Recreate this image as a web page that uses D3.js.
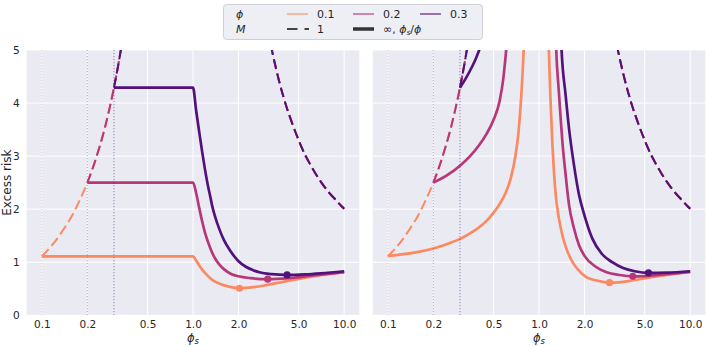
<!DOCTYPE html>
<html>
<head>
<meta charset="utf-8">
<script src="https://d3js.org/d3.v7.min.js"></script>
<style>
  body { margin: 0; background: #fff; }
  svg, svg text { font-family: "DejaVu Sans", sans-serif; }
  .tick text { fill: #262626; font-size: 10.5px; font-family: "DejaVu Sans", sans-serif; }
</style>
</head>
<body>
<svg id="chart" width="706" height="346"></svg>
<script>
// phi values and their colours (magma, 3 steps)
var phis = [0.1, 0.2, 0.3];
var colors = ["#fc8961", "#b73779", "#51127c"];
var xTicks = [0.1, 0.2, 0.5, 1.0, 2.0, 5.0, 10.0];
var xTickLabels = ["0.1", "0.2", "0.5", "1.0", "2.0", "5.0", "10.0"];
var yTicks = [0, 1, 2, 3, 4, 5];

// M = 1 (dashed), same curve for every phi, drawn from phi on
var m1Under = [[0.1,1.11],[0.12,1.36],[0.14,1.63],[0.16,1.9],[0.18,2.2],[0.2,2.5],[0.22,2.82],
  [0.24,3.16],[0.26,3.51],[0.28,3.89],[0.3,4.29],[0.32,4.71],[0.34,5.15]];
var m1Over = [[2.9,5.9],[3.0,5.67],[3.2,5.23],[3.4,4.87],[3.7,4.43],[4,4.08],[4.5,3.64],[5,3.3],
  [5.5,3.03],[6,2.83],[6.5,2.66],[7,2.52],[7.5,2.4],[8,2.3],[8.5,2.22],[9,2.14],[9.5,2.07],[10,2.01]];

// left panel, M = infinity
var leftOrange = [[0.1,1.11],[1.0,1.11],[1.05,1.03],[1.1,0.94],[1.15,0.86],[1.2,0.8],[1.3,0.7],[1.4,0.635],
  [1.5,0.595],[1.7,0.545],[2.03,0.51],[2.5,0.53],[3,0.565],[4,0.635],[5,0.685],[7,0.755],[10,0.815]];
var leftMagenta = [[0.2,2.5],[1.0,2.5],[1.05,2.3],[1.1,2.02],[1.15,1.77],[1.2,1.56],[1.3,1.27],[1.4,1.07],
  [1.5,0.95],[1.6,0.87],[1.8,0.775],[2.0,0.735],[2.4,0.70],[3.12,0.68],[4.3,0.70],[6,0.745],[10,0.815]];
var leftPurple = [[0.3,4.29],[1.0,4.29],[1.05,3.85],[1.1,3.45],[1.15,3.08],[1.2,2.75],[1.25,2.47],[1.3,2.24],
  [1.35,2.02],[1.4,1.86],[1.5,1.61],[1.6,1.42],[1.75,1.23],[2.0,1.02],[2.25,0.91],[2.5,0.85],[2.75,0.81],
  [3.3,0.775],[4.19,0.76],[5.5,0.77],[7,0.79],[10,0.83]];
var leftMin = [[2.03,0.51],[3.12,0.68],[4.19,0.76]];

// right panel, M = phi_s / phi (two branches each)
var rightOrangeLo = [[0.1,1.12],[0.15,1.18],[0.2,1.26],[0.25,1.35],[0.3,1.44],[0.35,1.545],[0.4,1.655],
  [0.45,1.78],[0.5,1.93],[0.55,2.1],[0.6,2.3],[0.65,2.58],[0.7,3.02],[0.73,3.42],[0.76,4.05],[0.78,4.6],[0.8,5.3]];
var rightOrangeHi = [[1.15,5.5],[1.17,4.7],[1.2,3.85],[1.225,3.25],[1.25,2.8],[1.29,2.27],[1.35,1.85],
  [1.43,1.5],[1.5,1.3],[1.66,1.01],[1.8,0.87],[2.03,0.73],[2.4,0.655],[2.93,0.615],[3.5,0.625],[4.2,0.66],
  [5.05,0.70],[7,0.76],[10,0.82]];
var rightMagentaLo = [[0.2,2.5],[0.25,2.65],[0.3,2.82],[0.35,3.0],[0.4,3.2],[0.45,3.42],[0.5,3.68],
  [0.55,4.05],[0.58,4.45],[0.6,4.85],[0.62,5.3]];
var rightMagentaHi = [[1.28,5.6],[1.3,5.0],[1.35,4.25],[1.4,3.6],[1.43,3.25],[1.5,2.65],[1.58,2.08],
  [1.7,1.65],[1.84,1.32],[2.0,1.12],[2.36,0.92],[2.8,0.81],[3.4,0.76],[4.17,0.735],[5,0.74],[7,0.775],[10,0.82]];
var rightPurpleLo = [[0.3,4.29],[0.33,4.48],[0.36,4.68],[0.38,4.82],[0.4,4.98],[0.42,5.15]];
var rightPurpleHi = [[1.39,5.4],[1.41,5.0],[1.5,4.15],[1.58,3.52],[1.7,2.85],[1.84,2.27],[2.0,1.88],
  [2.25,1.45],[2.6,1.16],[3.05,1.0],[3.6,0.89],[4.3,0.83],[5.3,0.80],[7,0.805],[10,0.83]];
var rightMin = [[2.93,0.615],[4.17,0.735],[5.3,0.80]];

var svg = d3.select("#chart");
var plotTop = 50, plotBottom = 315.3, panelW = 332.6;

var y = d3.scaleLinear().domain([0, 5]).range([plotBottom, plotTop]);

function drawPanel(x0, id, curves, mins, showY) {
  var x = d3.scaleLog().domain([Math.pow(10, -1.1), Math.pow(10, 1.1)]).range([x0, x0 + panelW]);
  var g = svg.append("g");

  g.append("rect").attr("x", x0).attr("y", plotTop).attr("width", panelW).attr("height", plotBottom - plotTop)
    .attr("fill", "#eaeaf2");
  svg.append("clipPath").attr("id", id).append("rect")
    .attr("x", x0).attr("y", plotTop).attr("width", panelW).attr("height", plotBottom - plotTop);

  // grid
  g.selectAll(".vg").data(xTicks).enter().append("line")
    .attr("x1", function(d) { return x(d); }).attr("x2", function(d) { return x(d); })
    .attr("y1", plotTop).attr("y2", plotBottom).attr("stroke", "#fff").attr("stroke-width", 1);
  g.selectAll(".hg").data(yTicks).enter().append("line")
    .attr("x1", x0).attr("x2", x0 + panelW)
    .attr("y1", function(d) { return y(d); }).attr("y2", function(d) { return y(d); })
    .attr("stroke", "#fff").attr("stroke-width", 1);

  var xAxis = g.append("g").attr("transform", "translate(0," + plotBottom + ")")
    .call(d3.axisBottom(x).tickValues(xTicks).tickSize(0).tickPadding(5)
      .tickFormat(function(d, i) { return xTickLabels[i]; }));
  xAxis.select(".domain").remove();

  if (showY) {
    var yAxis = g.append("g").attr("transform", "translate(" + x0 + ",0)")
      .call(d3.axisLeft(y).tickValues(yTicks).tickSize(0).tickPadding(7).tickFormat(d3.format("d")));
    yAxis.select(".domain").remove();
  }

  var line = d3.line()
    .x(function(d) { return x(d[0]); })
    .y(function(d) { return y(d[1]); })
    .curve(d3.curveMonotoneX);

  var plot = g.append("g").attr("clip-path", "url(#" + id + ")");

  phis.forEach(function(phi, i) {
    var under = m1Under.filter(function(d) { return d[0] >= phi - 1e-9; });
    [under, m1Over].forEach(function(arr) {
      plot.append("path").datum(arr).attr("d", line).attr("fill", "none")
        .attr("stroke", colors[i]).attr("stroke-width", 2).attr("stroke-dasharray", "10,4.5");
    });
    curves[i].forEach(function(arr) {
      plot.append("path").datum(arr).attr("d", line).attr("fill", "none")
        .attr("stroke", colors[i]).attr("stroke-width", 2.7).attr("stroke-linejoin", "round");
    });
    plot.append("circle").attr("cx", x(mins[i][0])).attr("cy", y(mins[i][1])).attr("r", 3.6)
      .attr("fill", colors[i]);
    plot.append("line").attr("x1", x(phi)).attr("x2", x(phi)).attr("y1", plotTop).attr("y2", plotBottom)
      .attr("stroke", colors[i]).attr("stroke-width", 1).attr("stroke-opacity", 0.5)
      .attr("stroke-dasharray", "1.2,1.8");
  });

  var lab = g.append("text").attr("x", x0 + panelW / 2).attr("y", 342).attr("text-anchor", "middle")
    .attr("font-size", 11.5).attr("fill", "#262626");
  lab.append("tspan").attr("font-style", "italic").text("ϕ");
  lab.append("tspan").attr("font-style", "italic").attr("font-size", 8.5).attr("dy", 2).text("s");
}

drawPanel(26.7, "clipL", [[leftOrange], [leftMagenta], [leftPurple]], leftMin, true);
drawPanel(372.7, "clipR", [[rightOrangeLo, rightOrangeHi], [rightMagentaLo, rightMagentaHi],
  [rightPurpleLo, rightPurpleHi]], rightMin, false);

svg.append("text").attr("transform", "translate(11," + (plotTop + plotBottom) / 2 + ") rotate(-90)")
  .attr("text-anchor", "middle").attr("font-size", 12).attr("fill", "#262626").text("Excess risk");

// legend
var lg = svg.append("g");
lg.append("rect").attr("x", 223.5).attr("y", 4.5).attr("width", 259).attr("height", 35).attr("rx", 3)
  .attr("fill", "#eeeef5").attr("stroke", "#cfcfd6").attr("stroke-width", 1);
var row1 = 14, row2 = 29;
lg.append("text").attr("x", 236).attr("y", row1 + 4).attr("font-size", 11).attr("font-style", "italic")
  .attr("fill", "#262626").text("ϕ");
lg.append("text").attr("x", 236).attr("y", row2 + 4).attr("font-size", 11).attr("font-style", "italic")
  .attr("fill", "#262626").text("M");
var legX = [287, 353, 420];
phis.forEach(function(phi, i) {
  lg.append("line").attr("x1", legX[i]).attr("x2", legX[i] + 21).attr("y1", row1).attr("y2", row1)
    .attr("stroke", colors[i]).attr("stroke-width", 1.5).attr("stroke-opacity", 0.75);
  lg.append("text").attr("x", legX[i] + 30).attr("y", row1 + 4).attr("font-size", 11)
    .attr("fill", "#262626").text(d3.format(".1f")(phi));
});
lg.append("line").attr("x1", legX[0]).attr("x2", legX[0] + 22).attr("y1", row2).attr("y2", row2)
  .attr("stroke", "#444").attr("stroke-width", 2).attr("stroke-dasharray", "10.5,7");
lg.append("text").attr("x", legX[0] + 30).attr("y", row2 + 4).attr("font-size", 11)
  .attr("fill", "#262626").text("1");
lg.append("line").attr("x1", legX[1]).attr("x2", legX[1] + 21).attr("y1", row2).attr("y2", row2)
  .attr("stroke", "#333").attr("stroke-width", 3.5);
var inf = lg.append("text").attr("x", legX[1] + 30).attr("y", row2 + 4).attr("font-size", 11)
  .attr("fill", "#262626");
inf.append("tspan").text("∞, ");
inf.append("tspan").attr("font-style", "italic").text("ϕ");
inf.append("tspan").attr("font-style", "italic").attr("font-size", 7.5).attr("dy", 2).text("s");
inf.append("tspan").attr("dy", -2).text("/");
inf.append("tspan").attr("font-style", "italic").text("ϕ");
</script>
</body>
</html>
